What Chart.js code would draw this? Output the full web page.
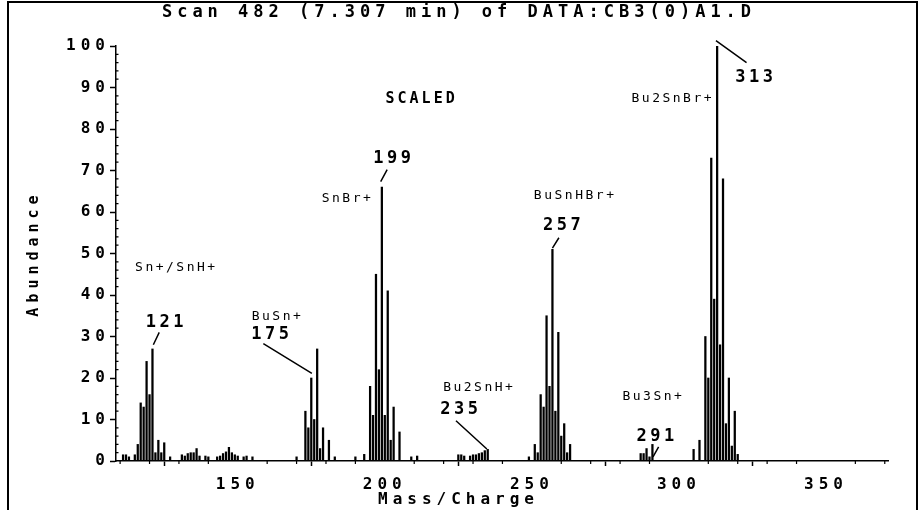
<!DOCTYPE html>
<html><head><meta charset="utf-8">
<script src="https://cdn.jsdelivr.net/npm/chart.js@4.4.1/dist/chart.umd.min.js"></script>
<style>
html,body{margin:0;padding:0;background:#fff;}
#wrap{position:relative;width:918px;height:510px;overflow:hidden;}
#frame{position:absolute;left:7px;top:1px;width:907px;height:520px;border-left:2px solid #000;border-top:2px solid #000;border-right:2px solid #000;pointer-events:none;}
canvas{position:absolute;left:0;top:0;}
</style></head><body>
<div id="wrap"><canvas id="c" width="918" height="510"></canvas><div id="frame"></div></div>
<script>
// ---- data ----
const masses = [111,112,113,115,116,117,118,119,120,121,122,123,124,125,127,
  131,132,133,134,135,136,137,139,140,
  143,144,145,146,147,148,149,150,152,153,155,
  170,173,174,175,176,177,178,179,181,183,
  190,193,195,196,197,198,199,200,201,202,203,205,209,211,
  225,226,227,229,230,231,232,233,234,235,
  249,251,252,253,254,255,256,257,258,259,260,261,262,263,
  287,288,289,290,291,
  305,307,309,310,311,312,313,314,315,316,317,318,319,320];
const abundance = [1.5,1.5,1,1.5,4,14,13,24,16,27,2,5,2,4.4,1,
  1.5,1.2,1.8,2,2,3,1.2,1.2,1,
  1,1.2,1.8,2.2,3.3,2,1.5,1.2,1,1.2,1,
  1,12,8,20,10,27,3,8,5,1,
  1,1.6,18,11,45,22,66,11,41,5,13,7,1,1.2,
  1.5,1.5,1.2,1.2,1.5,1.5,1.8,2,2.5,2.8,
  1,4,2,16,13,35,18,51,12,31,6,9,2,4,
  1.8,1.8,3,1,4,
  2.8,5,30,20,73,39,100,28,68,9,20,3.6,12,1.6];
const xTickValues = [150,200,250,300,350];
const yTickValues = [0,10,20,30,40,50,60,70,80,90,100];
const titleText = 'Scan 482 (7.307 min) of DATA:CB3(0)A1.D';
const xTitle = 'Mass/Charge';
const yTitle = 'Abundance';
const annotationTexts = ['SCALED','Sn+/SnH+','121','BuSn+','175','SnBr+','199','Bu2SnH+','235','BuSnHBr+','257','Bu3Sn+','291','Bu2SnBr+','313'];

// ---- placement of annotations (data coordinates) ----
const annotationPlace = [
  {x:212.0,y:87.2,size:15,sp:3,w:'bold'},
  {x:128.7,y:46.5,size:13,sp:2.5,w:'normal'},
  {x:125.1,y:33.4,size:17,sp:3.5,w:'bold'},
  {x:163.1,y:34.9,size:13,sp:2.5,w:'normal'},
  {x:161.0,y:30.5,size:17,sp:3.5,w:'bold'},
  {x:186.9,y:63.2,size:13,sp:2.5,w:'normal'},
  {x:202.5,y:72.9,size:17,sp:3.5,w:'bold'},
  {x:231.7,y:17.7,size:13,sp:2.5,w:'normal'},
  {x:225.3,y:12.3,size:17,sp:3.5,w:'bold'},
  {x:264.3,y:63.9,size:13,sp:2.5,w:'normal'},
  {x:260.2,y:56.7,size:17,sp:3.5,w:'bold'},
  {x:290.9,y:15.5,size:13,sp:2.5,w:'normal'},
  {x:292.0,y:5.8,size:17,sp:3.5,w:'bold'},
  {x:297.5,y:87.2,size:13,sp:2.5,w:'normal'},
  {x:325.6,y:92.5,size:17,sp:3.5,w:'bold'}
];
const leaderLines = [
  [123.3,31.0,121.3,28.0],
  [158.7,28.3,175.2,21.1],
  [200.8,70.2,198.6,67.3],
  [224.2,9.7,234.7,2.9],
  [259.2,53.8,257.0,51.3],
  [293.1,3.4,291.2,1.0],
  [312.6,101.3,323.0,96.0]
];

const FONT = '"DejaVu Sans Mono","Liberation Mono",monospace';

const decor = {
  id:'decor',
  beforeDraw(chart){ chart.ctx.letterSpacing = '5px'; },
  afterDraw(chart){
    const {ctx, chartArea:a} = chart;
    const xs = chart.scales.x, ys = chart.scales.y;
    ctx.save();
    ctx.strokeStyle = '#000'; ctx.fillStyle = '#000';
    // minor ticks
    ctx.lineWidth = 1.2;
    ctx.beginPath();
    for (let v = 110; v <= 370; v += 10) {
      if (v % 50 === 0) continue;
      const px = xs.getPixelForValue(v);
      ctx.moveTo(px, a.bottom); ctx.lineTo(px, a.bottom + 3);
    }
    for (let v = 2; v < 100; v += 2) {
      if (v % 10 === 0) continue;
      const py = ys.getPixelForValue(v);
      ctx.moveTo(a.left, py); ctx.lineTo(a.left + 2.5, py);
    }
    ctx.stroke();
    // leader lines
    ctx.lineWidth = 1.5;
    ctx.beginPath();
    leaderLines.forEach(l => {
      ctx.moveTo(xs.getPixelForValue(l[0]), ys.getPixelForValue(l[1]));
      ctx.lineTo(xs.getPixelForValue(l[2]), ys.getPixelForValue(l[3]));
    });
    ctx.stroke();
    // annotation texts
    ctx.textAlign = 'center'; ctx.textBaseline = 'middle';
    annotationTexts.forEach((t, i) => {
      const p = annotationPlace[i];
      ctx.font = p.w + ' ' + p.size + 'px ' + FONT;
      ctx.letterSpacing = p.sp + 'px';
      ctx.fillText(t, xs.getPixelForValue(p.x) + p.sp/2, ys.getPixelForValue(p.y));
    });
    // x axis title
    ctx.font = 'bold 16px ' + FONT;
    ctx.letterSpacing = '5px';
    ctx.fillText(xTitle, 456 + 2.5, 500);
    ctx.restore();
  }
};

new Chart(document.getElementById('c'), {
  type: 'bar',
  data: { datasets: [{
    data: masses.map((m, i) => ({x: m, y: abundance[i]})),
    backgroundColor: '#000', borderWidth: 0, barThickness: 1.6
  }]},
  options: {
    responsive: false, animation: false, devicePixelRatio: 1,
    layout: {padding: {left: 0, right: 0, top: 0, bottom: 0}},
    plugins: {
      legend: {display: false}, tooltip: {enabled: false},
      title: {display: true, text: titleText, color: '#000',
        font: {family: FONT, size: 17, weight: 'bold', lineHeight: 1.1}, padding: {top: 3, bottom: 24.3}}
    },
    scales: {
      x: {type: 'linear', min: 108.6, max: 371.1, offset: false,
        afterBuildTicks: s => { s.ticks = xTickValues.map(v => ({value: v})); },
        afterFit: s => { s.height = 49; },
        grid: {drawOnChartArea: false, drawTicks: true, tickLength: 5, color: '#000', tickWidth: 1.5},
        border: {display: true, color: '#000', width: 1.5},
        ticks: {color: '#000', font: {family: FONT, size: 16, weight: 'bold'}, padding: 9, maxRotation: 0, autoSkip: false}
      },
      y: {min: 0, max: 100,
        afterBuildTicks: s => { s.ticks = yTickValues.map(v => ({value: v})); },
        afterFit: s => { s.width = 116; },
        grid: {drawOnChartArea: false, tickLength: 6, color: '#000', tickWidth: 1.5},
        border: {display: true, color: '#000', width: 1.5},
        ticks: {color: '#000', font: {family: FONT, size: 16, weight: 'bold'}, padding: 0},
        title: {display: true, text: yTitle, color: '#000', font: {family: FONT, size: 15, weight: 'bold'}, padding: {top: 25, bottom: 0}}
      },
      yRight: {position: 'right', min: 0, max: 100,
        afterFit: s => { s.width = 30; },
        grid: {display: false}, border: {display: false}, ticks: {display: false}
      }
    }
  },
  plugins: [decor]
});
</script>
</body></html>
